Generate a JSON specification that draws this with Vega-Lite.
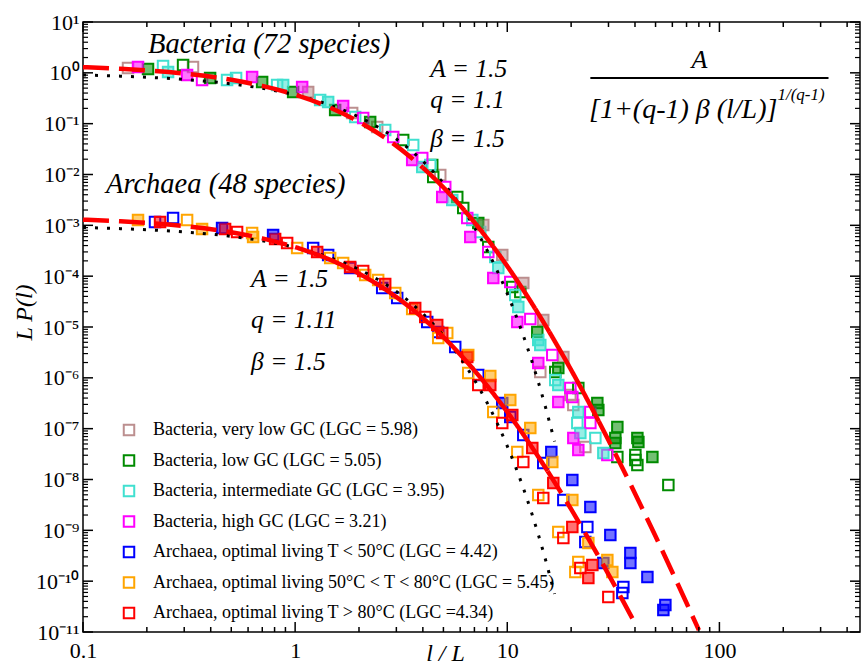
{
  "$schema": "https://vega.github.io/schema/vega-lite/v6.json",
  "width": 777,
  "height": 610,
  "autosize": {"type": "none"},
  "padding": {"left": 83, "top": 22, "right": 2, "bottom": 34},
  "background": "white",
  "config": {
    "view": {"stroke": "black", "strokeWidth": 1.5},
    "font": "Liberation Serif",
    "axis": {"labelFont": "Liberation Serif", "titleFont": "Liberation Serif", "labelColor": "black", "titleColor": "black", "domain": false, "grid": false, "ticks": false, "labelFlush": false, "labelOverlap": false}
  },
  "datasets": {
    "pts": [
      {"g":"b1","x":0.163,"y":1.245,"f":0},{"g":"b1","x":0.33,"y":1.302,"f":0},{"g":"b1","x":1.152,"y":0.42,"f":1},{"g":"b1","x":1.857,"y":0.162,"f":0},{"g":"b1","x":2.437,"y":0.086,"f":0},{"g":"b1","x":4.831,"y":0.00977,"f":0},{"g":"b1","x":7.706,"y":0.001015,"f":1},{"g":"b1","x":9.471,"y":0.000261,"f":1},{"g":"b1","x":11.9,"y":7.33e-5,"f":1},{"g":"b1","x":14.78,"y":1.372e-5,"f":1},{"g":"b1","x":18.38,"y":2.57e-6,"f":1},{"g":"b1","x":14.31,"y":1.301e-6,"f":0},{"g":"b1","x":19.83,"y":4.59e-7,"f":0},{"g":"b1","x":20.48,"y":2.92e-7,"f":0},{"g":"b1","x":23.33,"y":4.35e-8,"f":0},
      {"g":"b2","x":0.2025,"y":1.19,"f":1},{"g":"b2","x":0.2963,"y":1.426,"f":0},{"g":"b2","x":0.3973,"y":0.791,"f":1},{"g":"b2","x":0.6988,"y":0.66,"f":1},{"g":"b2","x":0.9786,"y":0.4196,"f":1},{"g":"b2","x":1.544,"y":0.1857,"f":1},{"g":"b2","x":2.258,"y":0.1078,"f":1},{"g":"b2","x":3.231,"y":0.0477,"f":0},{"g":"b2","x":4.429,"y":0.01537,"f":0},{"g":"b2","x":4.477,"y":0.00893,"f":0},{"g":"b2","x":5.81,"y":0.00361,"f":0},{"g":"b2","x":6.2,"y":0.00219,"f":0},{"g":"b2","x":7.299,"y":0.00111,"f":1},{"g":"b2","x":8.136,"y":0.0003745,"f":0},{"g":"b2","x":10.56,"y":6.12e-5,"f":0},{"g":"b2","x":11.52,"y":4.88e-5,"f":0},{"g":"b2","x":13.85,"y":7.96e-6,"f":1},{"g":"b2","x":17.4,"y":1.56e-6,"f":1},{"g":"b2","x":16.84,"y":1.301e-6,"f":0},{"g":"b2","x":21.62,"y":6.3e-7,"f":0},{"g":"b2","x":26.58,"y":3.19e-7,"f":1},{"g":"b2","x":26.87,"y":2.33e-7,"f":1},{"g":"b2","x":33.03,"y":1.077e-7,"f":1},{"g":"b2","x":32.31,"y":6.54e-8,"f":1},{"g":"b2","x":32.31,"y":5.22e-8,"f":1},{"g":"b2","x":41.05,"y":6.54e-8,"f":1},{"g":"b2","x":41.5,"y":5.46e-8,"f":1},{"g":"b2","x":33.03,"y":2.77e-8,"f":0},{"g":"b2","x":40.17,"y":3.03e-8,"f":0},{"g":"b2","x":40.17,"y":2.42e-8,"f":0},{"g":"b2","x":41.05,"y":1.93e-8,"f":0},{"g":"b2","x":48.31,"y":2.77e-8,"f":1},{"g":"b2","x":57.46,"y":7.78e-9,"f":0},
      {"g":"b3","x":0.2384,"y":1.362,"f":0},{"g":"b3","x":0.2518,"y":1.038,"f":1},{"g":"b3","x":0.4777,"y":0.723,"f":0},{"g":"b3","x":0.5268,"y":0.791,"f":0},{"g":"b3","x":0.8224,"y":0.576,"f":0},{"g":"b3","x":0.8779,"y":0.576,"f":1},{"g":"b3","x":1.312,"y":0.2921,"f":0},{"g":"b3","x":1.431,"y":0.2668,"f":1},{"g":"b3","x":1.919,"y":0.1352,"f":0},{"g":"b3","x":2.658,"y":0.075,"f":0},{"g":"b3","x":3.602,"y":0.038,"f":0},{"g":"b3","x":3.973,"y":0.01404,"f":1},{"g":"b3","x":4.334,"y":0.01537,"f":0},{"g":"b3","x":5.503,"y":0.00315,"f":1},{"g":"b3","x":6.84,"y":0.001273,"f":0},{"g":"b3","x":7.46,"y":0.000739,"f":0},{"g":"b3","x":8.78,"y":0.000238,"f":0},{"g":"b3","x":9.07,"y":0.000145,"f":1},{"g":"b3","x":10.91,"y":4.26e-5,"f":0},{"g":"b3","x":11.27,"y":2.47e-5,"f":1},{"g":"b3","x":14.0,"y":5.54e-6,"f":1},{"g":"b3","x":14.31,"y":4.42e-6,"f":1},{"g":"b3","x":16.84,"y":9.05e-7,"f":0},{"g":"b3","x":17.4,"y":7.22e-7,"f":1},{"g":"b3","x":21.62,"y":2.12e-7,"f":1},{"g":"b3","x":21.39,"y":1.291e-7,"f":0},{"g":"b3","x":22.1,"y":8.21e-8,"f":1},{"g":"b3","x":26.02,"y":6.54e-8,"f":0},{"g":"b3","x":28.37,"y":3.32e-8,"f":1},
      {"g":"b4","x":0.1817,"y":1.302,"f":1},{"g":"b4","x":0.3095,"y":0.906,"f":1},{"g":"b4","x":0.3641,"y":0.723,"f":0},{"g":"b4","x":0.6268,"y":0.828,"f":1},{"g":"b4","x":1.079,"y":0.526,"f":1},{"g":"b4","x":1.684,"y":0.2225,"f":1},{"g":"b4","x":2.093,"y":0.1292,"f":0},{"g":"b4","x":2.9,"y":0.0547,"f":0},{"g":"b4","x":3.563,"y":0.01928,"f":1},{"g":"b4","x":3.973,"y":0.02111,"f":0},{"g":"b4","x":5.1,"y":0.00567,"f":0},{"g":"b4","x":4.937,"y":0.00361,"f":1},{"g":"b4","x":6.477,"y":0.001393,"f":0},{"g":"b4","x":6.693,"y":0.000589,"f":1},{"g":"b4","x":8.136,"y":0.000299,"f":0},{"g":"b4","x":8.59,"y":9.2e-5,"f":1},{"g":"b4","x":10.33,"y":7.67e-5,"f":0},{"g":"b4","x":11.15,"y":1.253e-5,"f":1},{"g":"b4","x":12.84,"y":1.436e-5,"f":0},{"g":"b4","x":14.0,"y":1.955e-6,"f":1},{"g":"b4","x":16.3,"y":2.81e-6,"f":0},{"g":"b4","x":19.83,"y":6.3e-7,"f":0},{"g":"b4","x":17.4,"y":3.34e-7,"f":1},{"g":"b4","x":20.26,"y":4.19e-7,"f":0},{"g":"b4","x":24.64,"y":2.12e-7,"f":0},{"g":"b4","x":24.64,"y":1.291e-7,"f":0},{"g":"b4","x":20.48,"y":6.54e-8,"f":1},{"g":"b4","x":21.62,"y":3.8e-8,"f":1},{"g":"b4","x":29.63,"y":3.03e-8,"f":0},
      {"g":"a1","x":0.2185,"y":0.001162,"f":0},{"g":"a1","x":0.2658,"y":0.001393,"f":0},{"g":"a1","x":0.4525,"y":0.000886,"f":1},{"g":"a1","x":0.7873,"y":0.000645,"f":1},{"g":"a1","x":1.216,"y":0.000358,"f":0},{"g":"a1","x":1.431,"y":0.000261,"f":0},{"g":"a1","x":1.817,"y":0.000145,"f":0},{"g":"a1","x":2.573,"y":5.85e-5,"f":0},{"g":"a1","x":3.028,"y":3.72e-5,"f":0},{"g":"a1","x":4.195,"y":1.253e-5,"f":0},{"g":"a1","x":4.726,"y":7.96e-6,"f":0},{"g":"a1","x":5.684,"y":4.04e-6,"f":0},{"g":"a1","x":7.299,"y":1.136e-6,"f":0},{"g":"a1","x":9.471,"y":3.19e-7,"f":1},{"g":"a1","x":10.33,"y":1.694e-7,"f":0},{"g":"a1","x":11.9,"y":7.5e-8,"f":0},{"g":"a1","x":14.78,"y":2.11e-8,"f":0},{"g":"a1","x":16.13,"y":3.47e-8,"f":1},{"g":"a1","x":18.38,"y":3.95e-9,"f":0},{"g":"a1","x":20.26,"y":9.76e-9,"f":1},{"g":"a1","x":23.85,"y":1.161e-9,"f":0},{"g":"a1","x":24.64,"y":2.87e-9,"f":1},{"g":"a1","x":23.33,"y":5.89e-10,"f":0},{"g":"a1","x":30.61,"y":8.08e-10,"f":1},{"g":"a1","x":28.37,"y":2.27e-10,"f":1},{"g":"a1","x":38.04,"y":3.58e-10,"f":1},{"g":"a1","x":38.04,"y":2.27e-10,"f":1},{"g":"a1","x":35.26,"y":7.66e-11,"f":0},{"g":"a1","x":34.87,"y":5.84e-11,"f":0},{"g":"a1","x":45.77,"y":1.206e-10,"f":1},{"g":"a1","x":55.62,"y":3.39e-11,"f":1},{"g":"a1","x":54.42,"y":2.7e-11,"f":1},
      {"g":"a2","x":0.1817,"y":0.001273,"f":1},{"g":"a2","x":0.3095,"y":0.001273,"f":0},{"g":"a2","x":0.3641,"y":0.000847,"f":1},{"g":"a2","x":0.6268,"y":0.000706,"f":0},{"g":"a2","x":0.6336,"y":0.000589,"f":1},{"g":"a2","x":1.022,"y":0.000358,"f":0},{"g":"a2","x":1.463,"y":0.000228,"f":0},{"g":"a2","x":1.684,"y":0.000181,"f":0},{"g":"a2","x":2.139,"y":0.0001054,"f":0},{"g":"a2","x":2.463,"y":8.4e-5,"f":0},{"g":"a2","x":2.963,"y":4.66e-5,"f":0},{"g":"a2","x":3.563,"y":2.26e-5,"f":0},{"g":"a2","x":4.726,"y":6.07e-6,"f":0},{"g":"a2","x":5.212,"y":7.61e-6,"f":0},{"g":"a2","x":6.548,"y":2.81e-6,"f":1},{"g":"a2","x":6.548,"y":1.243e-6,"f":0},{"g":"a2","x":8.315,"y":1.085e-6,"f":1},{"g":"a2","x":8.59,"y":2.12e-7,"f":0},{"g":"a2","x":10.33,"y":3.66e-7,"f":1},{"g":"a2","x":11.15,"y":3.47e-8,"f":0},{"g":"a2","x":12.84,"y":1.029e-7,"f":1},{"g":"a2","x":16.3,"y":2.21e-8,"f":1},{"g":"a2","x":14.0,"y":4.95e-9,"f":0},{"g":"a2","x":17.4,"y":9.26e-10,"f":0},{"g":"a2","x":20.26,"y":3.95e-9,"f":1},{"g":"a2","x":21.62,"y":2.38e-10,"f":0},{"g":"a2","x":20.93,"y":1.512e-10,"f":0},{"g":"a2","x":24.11,"y":5.63e-10,"f":1},{"g":"a2","x":29.63,"y":2.6e-10,"f":1},{"g":"a2","x":31.28,"y":1.512e-10,"f":1},
      {"g":"a3","x":0.2308,"y":0.001162,"f":1},{"g":"a3","x":0.4675,"y":0.000847,"f":1},{"g":"a3","x":0.5326,"y":0.000739,"f":0},{"g":"a3","x":0.8048,"y":0.000538,"f":1},{"g":"a3","x":0.9169,"y":0.000449,"f":0},{"g":"a3","x":1.27,"y":0.000299,"f":1},{"g":"a3","x":1.817,"y":0.000151,"f":1},{"g":"a3","x":2.093,"y":0.000126,"f":0},{"g":"a3","x":2.658,"y":7.01e-5,"f":1},{"g":"a3","x":3.681,"y":2.36e-5,"f":1},{"g":"a3","x":4.105,"y":1.572e-5,"f":0},{"g":"a3","x":4.675,"y":1.094e-5,"f":1},{"g":"a3","x":4.937,"y":7.61e-6,"f":1},{"g":"a3","x":6.477,"y":2.57e-6,"f":1},{"g":"a3","x":7.299,"y":7.22e-7,"f":0},{"g":"a3","x":8.315,"y":7.22e-7,"f":1},{"g":"a3","x":9.471,"y":1.291e-7,"f":0},{"g":"a3","x":10.56,"y":1.855e-7,"f":1},{"g":"a3","x":11.9,"y":2.21e-8,"f":0},{"g":"a3","x":13.12,"y":4.16e-8,"f":1},{"g":"a3","x":14.78,"y":4.32e-9,"f":0},{"g":"a3","x":16.48,"y":8.52e-9,"f":1},{"g":"a3","x":18.38,"y":7.06e-10,"f":0},{"g":"a3","x":20.26,"y":1.161e-9,"f":1},{"g":"a3","x":22.1,"y":1.81e-10,"f":0},{"g":"a3","x":25.18,"y":2.08e-10,"f":1},{"g":"a3","x":24.11,"y":1.152e-10,"f":1},{"g":"a3","x":29.95,"y":4.87e-11,"f":0}
    ],
    "fit": [
      {"s":"BL","d":"dash","x":0.1,"y":1.293},{"s":"BL","d":"dash","x":0.15,"y":1.201},{"s":"BL","d":"dash","x":0.2,"y":1.116},{"s":"BL","d":"dash","x":0.3,"y":0.966},{"s":"BL","d":"dash","x":0.5,"y":0.728},{"s":"BL","d":"dash","x":0.7,"y":0.553},{"s":"BL","d":"dash","x":1,"y":0.371},{"s":"BL","d":"dash","x":1.5,"y":0.197},{"s":"BL","d":"dash","x":2,"y":0.1088},{"s":"BL","d":"dash","x":3,"y":0.0365},{"s":"BL","d":"dash","x":4,"y":0.01364},
      {"s":"BM","d":"solid","x":4,"y":0.01364},{"s":"BM","d":"solid","x":5,"y":0.00557},{"s":"BM","d":"solid","x":6,"y":0.002447},{"s":"BM","d":"solid","x":8,"y":0.000565},{"s":"BM","d":"solid","x":10,"y":0.0001573},{"s":"BM","d":"solid","x":12,"y":5.07e-5},{"s":"BM","d":"solid","x":15,"y":1.141e-5},{"s":"BM","d":"solid","x":20,"y":1.431e-6},{"s":"BM","d":"solid","x":25,"y":2.566e-7},{"s":"BM","d":"solid","x":27,"y":1.39e-7},
      {"s":"BR","d":"dash","x":27,"y":1.39e-7},{"s":"BR","d":"dash","x":30,"y":5.93e-8},{"s":"BR","d":"dash","x":40,"y":5.31e-9},{"s":"BR","d":"dash","x":50,"y":7.62e-10},{"s":"BR","d":"dash","x":60,"y":1.5e-10},{"s":"BR","d":"dash","x":70,"y":3.71e-11},{"s":"BR","d":"dash","x":80,"y":1.09e-11},
      {"s":"AL","d":"dash","x":0.1,"y":0.001293},{"s":"AL","d":"dash","x":0.15,"y":0.001201},{"s":"AL","d":"dash","x":0.2,"y":0.001117},{"s":"AL","d":"dash","x":0.3,"y":0.000967},{"s":"AL","d":"dash","x":0.5,"y":0.00073},{"s":"AL","d":"dash","x":0.7,"y":0.000555},{"s":"AL","d":"dash","x":1,"y":0.0003742},
      {"s":"AM","d":"solid","x":1,"y":0.0003742},{"s":"AM","d":"solid","x":1.5,"y":0.0002009},{"s":"AM","d":"solid","x":2,"y":0.0001122},{"s":"AM","d":"solid","x":3,"y":3.877e-5},{"s":"AM","d":"solid","x":4,"y":1.497e-5},{"s":"AM","d":"solid","x":5,"y":6.327e-6},{"s":"AM","d":"solid","x":6,"y":2.88e-6},{"s":"AM","d":"solid","x":8,"y":7.14e-7},{"s":"AM","d":"solid","x":10,"y":2.13e-7},{"s":"AM","d":"solid","x":12,"y":7.32e-8},{"s":"AM","d":"solid","x":15.5,"y":1.464e-8},
      {"s":"AR","d":"dash","x":15.5,"y":1.464e-8},{"s":"AR","d":"dash","x":20,"y":2.61e-9},{"s":"AR","d":"dash","x":25,"y":5.3e-10},{"s":"AR","d":"dash","x":30,"y":1.365e-10},{"s":"AR","d":"dash","x":35,"y":4.19e-11},{"s":"AR","d":"dash","x":40,"y":1.475e-11}
    ],
    "dot": [
      {"s":"B","x":0.1,"y":0.9048},{"s":"B","x":0.15,"y":0.8607},{"s":"B","x":0.2,"y":0.8187},{"s":"B","x":0.3,"y":0.7408},{"s":"B","x":0.5,"y":0.6065},{"s":"B","x":0.7,"y":0.4966},{"s":"B","x":1,"y":0.3679},{"s":"B","x":1.5,"y":0.2231},{"s":"B","x":2,"y":0.1353},{"s":"B","x":2.5,"y":0.08208},{"s":"B","x":3,"y":0.04979},{"s":"B","x":4,"y":0.01832},{"s":"B","x":5,"y":0.006738},{"s":"B","x":6,"y":0.002479},{"s":"B","x":7,"y":0.0009119},{"s":"B","x":8,"y":0.0003355},{"s":"B","x":9,"y":0.0001234},{"s":"B","x":10,"y":4.54e-5},{"s":"B","x":11,"y":1.67e-5},{"s":"B","x":12,"y":6.144e-6},{"s":"B","x":13,"y":2.26e-6},{"s":"B","x":14,"y":8.315e-7},{"s":"B","x":15,"y":3.059e-7},{"s":"B","x":16.7,"y":5.59e-8},
      {"s":"A","x":0.1,"y":0.0009048},{"s":"A","x":0.15,"y":0.0008607},{"s":"A","x":0.2,"y":0.0008187},{"s":"A","x":0.3,"y":0.0007408},{"s":"A","x":0.5,"y":0.0006065},{"s":"A","x":0.7,"y":0.0004966},{"s":"A","x":1,"y":0.0003679},{"s":"A","x":1.5,"y":0.0002231},{"s":"A","x":2,"y":0.0001353},{"s":"A","x":2.5,"y":8.208e-5},{"s":"A","x":3,"y":4.979e-5},{"s":"A","x":4,"y":1.832e-5},{"s":"A","x":5,"y":6.738e-6},{"s":"A","x":6,"y":2.479e-6},{"s":"A","x":7,"y":9.119e-7},{"s":"A","x":8,"y":3.355e-7},{"s":"A","x":9,"y":1.234e-7},{"s":"A","x":10,"y":4.54e-8},{"s":"A","x":11,"y":1.67e-8},{"s":"A","x":12,"y":6.144e-9},{"s":"A","x":13,"y":2.26e-9},{"s":"A","x":14,"y":8.315e-10},{"s":"A","x":15,"y":3.059e-10},{"s":"A","x":16.7,"y":5.59e-11}
    ],
    "xmaj": [{"v":0.1},{"v":1},{"v":10},{"v":100}],
    "xmin": [{"v":0.2},{"v":0.3},{"v":0.4},{"v":0.5},{"v":0.6},{"v":0.7},{"v":0.8},{"v":0.9},{"v":2},{"v":3},{"v":4},{"v":5},{"v":6},{"v":7},{"v":8},{"v":9},{"v":20},{"v":30},{"v":40},{"v":50},{"v":60},{"v":70},{"v":80},{"v":90},{"v":200},{"v":300},{"v":400}],
    "ymaj": [{"v":1e-11},{"v":1e-10},{"v":1e-9},{"v":1e-8},{"v":1e-7},{"v":1e-6},{"v":1e-5},{"v":1e-4},{"v":1e-3},{"v":1e-2},{"v":0.1},{"v":1},{"v":10}],
    "ymin": [{"v":2e-11},{"v":3e-11},{"v":4e-11},{"v":5e-11},{"v":6e-11},{"v":7e-11},{"v":8e-11},{"v":9e-11},{"v":2e-10},{"v":3e-10},{"v":4e-10},{"v":5e-10},{"v":6e-10},{"v":7e-10},{"v":8e-10},{"v":9e-10},{"v":2e-9},{"v":3e-9},{"v":4e-9},{"v":5e-9},{"v":6e-9},{"v":7e-9},{"v":8e-9},{"v":9e-9},{"v":2e-8},{"v":3e-8},{"v":4e-8},{"v":5e-8},{"v":6e-8},{"v":7e-8},{"v":8e-8},{"v":9e-8},{"v":2e-7},{"v":3e-7},{"v":4e-7},{"v":5e-7},{"v":6e-7},{"v":7e-7},{"v":8e-7},{"v":9e-7},{"v":2e-6},{"v":3e-6},{"v":4e-6},{"v":5e-6},{"v":6e-6},{"v":7e-6},{"v":8e-6},{"v":9e-6},{"v":2e-5},{"v":3e-5},{"v":4e-5},{"v":5e-5},{"v":6e-5},{"v":7e-5},{"v":8e-5},{"v":9e-5},{"v":2e-4},{"v":3e-4},{"v":4e-4},{"v":5e-4},{"v":6e-4},{"v":7e-4},{"v":8e-4},{"v":9e-4},{"v":2e-3},{"v":3e-3},{"v":4e-3},{"v":5e-3},{"v":6e-3},{"v":7e-3},{"v":8e-3},{"v":9e-3},{"v":0.02},{"v":0.03},{"v":0.04},{"v":0.05},{"v":0.06},{"v":0.07},{"v":0.08},{"v":0.09},{"v":0.2},{"v":0.3},{"v":0.4},{"v":0.5},{"v":0.6},{"v":0.7},{"v":0.8},{"v":0.9},{"v":2},{"v":3},{"v":4},{"v":5},{"v":6},{"v":7},{"v":8},{"v":9}]
  },
  "resolve": {"scale": {"x": "shared", "y": "shared"}, "axis": {"x": "independent", "y": "independent"}},
  "layer": [
    {
      "data": {"name": "pts"},
      "mark": {"type": "point", "shape": "square", "filled": false, "size": 110, "strokeWidth": 2, "opacity": 1},
      "encoding": {
        "x": {"field": "x", "type": "quantitative", "scale": {"type": "log", "domain": [0.1, 460], "nice": false},
          "axis": {"orient": "bottom", "values": [0.1, 1, 10, 100], "format": "~g", "labelFontSize": 22, "labelPadding": 8, "title": "l / L", "titleFontSize": 24, "titleFontStyle": "italic", "titleFontWeight": "normal", "titleX": 362, "titleY": 28, "titleBaseline": "alphabetic", "titleAlign": "center"}},
        "y": {"field": "y", "type": "quantitative", "scale": {"type": "log", "domain": [1e-11, 10], "nice": false},
          "axis": {"orient": "left", "values": [1e-11, 1e-10, 1e-9, 1e-8, 1e-7, 1e-6, 1e-5, 1e-4, 1e-3, 1e-2, 1e-1, 1, 10], "labelExpr": "['10⁻¹¹','10⁻¹⁰','10⁻⁹','10⁻⁸','10⁻⁷','10⁻⁶','10⁻⁵','10⁻⁴','10⁻³','10⁻²','10⁻¹','10⁰','10¹'][round(log(datum.value)/LN10)+11]", "labelFontSize": 22, "labelPadding": 4, "title": "L P(l)", "titleFontSize": 24, "titleFontStyle": "italic", "titleFontWeight": "normal", "titleX": -52, "titleY": 290, "titleBaseline": "alphabetic", "titleAlign": "center", "titleAngle": 270}},
        "color": {"field": "g", "type": "nominal",
          "scale": {"domain": ["b1", "b2", "b3", "b4", "a1", "a2", "a3"], "range": ["#bc8f8f", "#008b00", "#40e0d0", "#ff00ff", "#0000ff", "#ffa500", "#ff0000"]},
          "legend": {"orient": "none", "legendX": 37, "legendY": 399, "title": null, "symbolType": "square", "symbolSize": 110, "symbolStrokeWidth": 2, "symbolFillColor": "transparent", "labelFont": "Liberation Serif", "labelFontSize": 18, "labelColor": "black", "labelOffset": 15, "rowPadding": 10.5, "labelLimit": 700,
            "labelExpr": "datum.label == 'b1' ? 'Bacteria, very low GC (LGC = 5.98)' : datum.label == 'b2' ? 'Bacteria, low GC (LGC = 5.05)' : datum.label == 'b3' ? 'Bacteria, intermediate GC (LGC = 3.95)' : datum.label == 'b4' ? 'Bacteria, high GC (LGC = 3.21)' : datum.label == 'a1' ? 'Archaea, optimal living T < 50°C (LGC = 4.42)' : datum.label == 'a2' ? 'Archaea, optimal living 50°C < T < 80°C (LGC = 5.45)' : 'Archaea, optimal living T > 80°C (LGC =4.34)'"}}
      }
    },
    {
      "data": {"name": "pts"},
      "transform": [{"filter": "datum.f == 1"}],
      "mark": {"type": "point", "shape": "square", "filled": true, "size": 110, "opacity": 0.55, "strokeWidth": 0},
      "encoding": {
        "x": {"field": "x", "type": "quantitative", "scale": {"type": "log", "domain": [0.1, 460], "nice": false}, "axis": null},
        "y": {"field": "y", "type": "quantitative", "scale": {"type": "log", "domain": [1e-11, 10], "nice": false}, "axis": null},
        "fill": {"field": "g", "type": "nominal", "scale": {"domain": ["a1", "a2", "a3", "b1", "b2", "b3", "b4"], "range": ["#0000ff", "#ffa500", "#ff0000", "#bc8f8f", "#008b00", "#40e0d0", "#ff00ff"]}, "legend": null}
      }
    },
    {
      "data": {"name": "dot"},
      "mark": {"type": "line", "color": "black", "strokeWidth": 3, "strokeDash": [3, 9], "interpolate": "monotone"},
      "encoding": {
        "x": {"field": "x", "type": "quantitative", "scale": {"type": "log", "domain": [0.1, 460], "nice": false}, "axis": null},
        "y": {"field": "y", "type": "quantitative", "scale": {"type": "log", "domain": [1e-11, 10], "nice": false}, "axis": null},
        "detail": {"field": "s"}
      }
    },
    {
      "data": {"name": "fit"},
      "mark": {"type": "line", "color": "#ff0000", "strokeWidth": 4.5, "interpolate": "monotone"},
      "encoding": {
        "x": {"field": "x", "type": "quantitative", "scale": {"type": "log", "domain": [0.1, 460], "nice": false}, "axis": null},
        "y": {"field": "y", "type": "quantitative", "scale": {"type": "log", "domain": [1e-11, 10], "nice": false}, "axis": null},
        "detail": {"field": "s"},
        "strokeDash": {"field": "d", "type": "nominal", "scale": {"domain": ["dash", "solid"], "range": [[26, 10], [1, 0]]}, "legend": null}
      }
    },
    {
      "data": {"name": "xmaj"},
      "mark": {"type": "rule", "color": "black", "strokeWidth": 1.5},
      "encoding": {
        "x": {"field": "v", "type": "quantitative", "scale": {"type": "log", "domain": [0.1, 460], "nice": false}, "axis": null},
        "y": {"datum": 1e-11, "type": "quantitative", "scale": {"type": "log", "domain": [1e-11, 10], "nice": false}, "axis": null},
        "y2": {"datum": 1.574e-11}
      }
    },
    {
      "data": {"name": "xmaj"},
      "mark": {"type": "rule", "color": "black", "strokeWidth": 1.5},
      "encoding": {
        "x": {"field": "v", "type": "quantitative", "scale": {"type": "log", "domain": [0.1, 460], "nice": false}, "axis": null},
        "y": {"datum": 10, "type": "quantitative", "scale": {"type": "log", "domain": [1e-11, 10], "nice": false}, "axis": null},
        "y2": {"datum": 6.356}
      }
    },
    {
      "data": {"name": "xmin"},
      "mark": {"type": "rule", "color": "black", "strokeWidth": 1.5},
      "encoding": {
        "x": {"field": "v", "type": "quantitative", "scale": {"type": "log", "domain": [0.1, 460], "nice": false}, "axis": null},
        "y": {"datum": 1e-11, "type": "quantitative", "scale": {"type": "log", "domain": [1e-11, 10], "nice": false}, "axis": null},
        "y2": {"datum": 1.254e-11}
      }
    },
    {
      "data": {"name": "xmin"},
      "mark": {"type": "rule", "color": "black", "strokeWidth": 1.5},
      "encoding": {
        "x": {"field": "v", "type": "quantitative", "scale": {"type": "log", "domain": [0.1, 460], "nice": false}, "axis": null},
        "y": {"datum": 10, "type": "quantitative", "scale": {"type": "log", "domain": [1e-11, 10], "nice": false}, "axis": null},
        "y2": {"datum": 7.975}
      }
    },
    {
      "data": {"name": "ymaj"},
      "mark": {"type": "rule", "color": "black", "strokeWidth": 1.5},
      "encoding": {
        "y": {"field": "v", "type": "quantitative", "scale": {"type": "log", "domain": [1e-11, 10], "nice": false}, "axis": null},
        "x": {"datum": 0.1, "type": "quantitative", "scale": {"type": "log", "domain": [0.1, 460], "nice": false}, "axis": null},
        "x2": {"datum": 0.11147}
      }
    },
    {
      "data": {"name": "ymaj"},
      "mark": {"type": "rule", "color": "black", "strokeWidth": 1.5},
      "encoding": {
        "y": {"field": "v", "type": "quantitative", "scale": {"type": "log", "domain": [1e-11, 10], "nice": false}, "axis": null},
        "x": {"datum": 460, "type": "quantitative", "scale": {"type": "log", "domain": [0.1, 460], "nice": false}, "axis": null},
        "x2": {"datum": 412.7}
      }
    },
    {
      "data": {"name": "ymin"},
      "mark": {"type": "rule", "color": "black", "strokeWidth": 1.2},
      "encoding": {
        "y": {"field": "v", "type": "quantitative", "scale": {"type": "log", "domain": [1e-11, 10], "nice": false}, "axis": null},
        "x": {"datum": 0.1, "type": "quantitative", "scale": {"type": "log", "domain": [0.1, 460], "nice": false}, "axis": null},
        "x2": {"datum": 0.10558}
      }
    },
    {
      "data": {"name": "ymin"},
      "mark": {"type": "rule", "color": "black", "strokeWidth": 1.2},
      "encoding": {
        "y": {"field": "v", "type": "quantitative", "scale": {"type": "log", "domain": [1e-11, 10], "nice": false}, "axis": null},
        "x": {"datum": 460, "type": "quantitative", "scale": {"type": "log", "domain": [0.1, 460], "nice": false}, "axis": null},
        "x2": {"datum": 435.7}
      }
    },
    {
      "data": {"values": [{"t": "Bacteria (72 species)", "x": 0.2025, "y": 2.455}, {"t": "Archaea (48 species)", "x": 0.1284, "y": 0.00432}]},
      "mark": {"type": "text", "align": "left", "baseline": "alphabetic", "font": "Liberation Serif", "fontStyle": "italic", "fontSize": 28.5, "color": "black"},
      "encoding": {
        "x": {"field": "x", "type": "quantitative", "scale": {"type": "log", "domain": [0.1, 460], "nice": false}, "axis": null},
        "y": {"field": "y", "type": "quantitative", "scale": {"type": "log", "domain": [1e-11, 10], "nice": false}, "axis": null},
        "text": {"field": "t"}
      }
    },
    {
      "data": {"values": [{"t": "A = 1.5", "x": 4.334, "y": 0.828}, {"t": "q = 1.1", "x": 4.334, "y": 0.2032}, {"t": "β = 1.5", "x": 4.334, "y": 0.0348}, {"t": "A = 1.5", "x": 0.62, "y": 6.12e-5}, {"t": "q = 1.11", "x": 0.62, "y": 9.55e-6}, {"t": "β = 1.5", "x": 0.62, "y": 1.424e-6}]},
      "mark": {"type": "text", "align": "left", "baseline": "alphabetic", "font": "Liberation Serif", "fontStyle": "italic", "fontSize": 25.5, "color": "black"},
      "encoding": {
        "x": {"field": "x", "type": "quantitative", "scale": {"type": "log", "domain": [0.1, 460], "nice": false}, "axis": null},
        "y": {"field": "y", "type": "quantitative", "scale": {"type": "log", "domain": [1e-11, 10], "nice": false}, "axis": null},
        "text": {"field": "t"}
      }
    },
    {
      "data": {"values": [{"t": "A", "x": 80.5, "y": 1.245}]},
      "mark": {"type": "text", "align": "center", "baseline": "alphabetic", "font": "Liberation Serif", "fontStyle": "italic", "fontSize": 26, "color": "black"},
      "encoding": {
        "x": {"field": "x", "type": "quantitative", "scale": {"type": "log", "domain": [0.1, 460], "nice": false}, "axis": null},
        "y": {"field": "y", "type": "quantitative", "scale": {"type": "log", "domain": [1e-11, 10], "nice": false}, "axis": null},
        "text": {"field": "t"}
      }
    },
    {
      "data": {"values": [{"t": "[1+(q-1) β (l/L)]", "x": 187.7, "y": 0.1292}]},
      "mark": {"type": "text", "align": "right", "baseline": "alphabetic", "font": "Liberation Serif", "fontStyle": "italic", "fontSize": 28, "color": "black"},
      "encoding": {
        "x": {"field": "x", "type": "quantitative", "scale": {"type": "log", "domain": [0.1, 460], "nice": false}, "axis": null},
        "y": {"field": "y", "type": "quantitative", "scale": {"type": "log", "domain": [1e-11, 10], "nice": false}, "axis": null},
        "text": {"field": "t"}
      }
    },
    {
      "data": {"values": [{"t": "1/(q-1)", "x": 187.7, "y": 0.292}]},
      "mark": {"type": "text", "align": "left", "baseline": "alphabetic", "font": "Liberation Serif", "fontStyle": "italic", "fontSize": 17, "color": "black"},
      "encoding": {
        "x": {"field": "x", "type": "quantitative", "scale": {"type": "log", "domain": [0.1, 460], "nice": false}, "axis": null},
        "y": {"field": "y", "type": "quantitative", "scale": {"type": "log", "domain": [1e-11, 10], "nice": false}, "axis": null},
        "text": {"field": "t"}
      }
    },
    {
      "data": {"values": [{"x": 24.64, "x2": 326.8, "y": 0.791}]},
      "mark": {"type": "rule", "color": "black", "strokeWidth": 2},
      "encoding": {
        "x": {"field": "x", "type": "quantitative", "scale": {"type": "log", "domain": [0.1, 460], "nice": false}, "axis": null},
        "x2": {"field": "x2"},
        "y": {"field": "y", "type": "quantitative", "scale": {"type": "log", "domain": [1e-11, 10], "nice": false}, "axis": null}
      }
    }
  ]
}
